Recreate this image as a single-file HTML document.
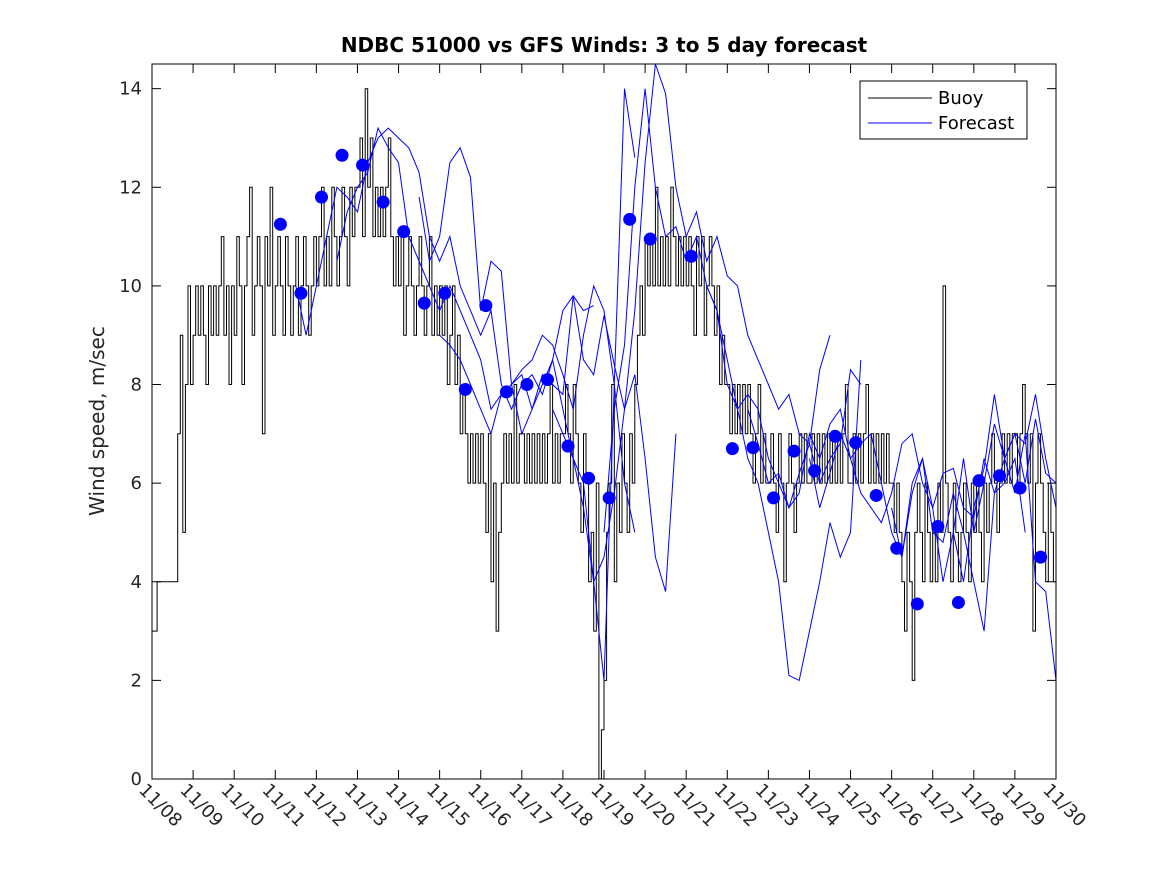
<!DOCTYPE html>
<html><head><meta charset="utf-8"><style>
body{margin:0;background:#fff;}
svg text{font-family:"DejaVu Sans","Liberation Sans",sans-serif;}
</style></head><body>
<svg id="chart" width="1167" height="875" xmlns="http://www.w3.org/2000/svg">
<rect width="1167" height="875" fill="#fff"/>
<g id="plot"></g>
</svg>
<script>
const xDayTicks=["11/08","11/09","11/10","11/11","11/12","11/13","11/14","11/15","11/16","11/17","11/18","11/19","11/20","11/21","11/22","11/23","11/24","11/25","11/26","11/27","11/28","11/29","11/30"];
const yTicks=[0,2,4,6,8,10,12,14];
const buoyStart=0, buoyStep=0.0625;
const buoy=[
3,3,4,4,4,4,4,4,4,4,7,9,5,8,10,8,
9,10,9,10,9,8,10,9,10,9,10,11,9,10,8,10,
9,11,10,8,10,11,12,9,10,11,10,7,11,10,12,9,
10,11,10,9,11,10,9,10,11,9,10,11,10,9,10,11,
10,11,12,10,11,10,12,11,10,11,12,11,10,12,11,12,
12,13,11,14,12,13,11,12,11,12,11,12,13,11,10,11,
10,11,9,10,11,10,9,10,11,10,9,10,11,9,10,9,
10,9,10,8,9,10,8,9,7,8,7,6,7,6,7,6,
7,6,5,7,4,6,3,5,6,7,6,7,6,8,6,7,
7,6,7,6,7,6,7,6,7,6,7,8,6,7,6,7,
7,8,7,6,8,7,6,5,7,6,4,5,3,6,0,1,
2,5,6,8,4,6,5,7,6,5,7,6,8,9,10,9,
11,10,11,10,12,10,11,10,11,10,12,11,10,11,10,11,
10,11,10,9,11,10,11,9,10,11,10,9,10,8,9,8,
8,7,8,7,8,7,8,7,8,7,6,7,8,6,7,6,
6,7,6,5,7,6,4,6,7,6,5,6,7,6,7,6,
6,7,6,7,6,7,6,7,6,7,6,7,6,7,8,6,
6,7,6,7,6,7,8,6,7,6,7,6,7,6,7,6,
6,5,6,5,4,3,5,4,2,5,6,5,4,6,5,4,
5,4,6,5,10,6,5,4,6,5,4,5,6,5,4,6,
5,6,5,4,6,5,6,7,6,5,6,7,6,7,6,7,
7,6,7,8,7,6,7,3,6,7,6,5,4,6,5,4];
const fcStep=0.25;
const fcStarts=[3.5,4.5,6.5,7.0,9.75,11.0,13.5,14.5,16.0,18.0,19.5];
const fc1=[10,9,10,11,12,11.8,11.5,12.5,13,13.2,13,12.8,12.3,11,10.5,11,10,9.5,9,9.5,8,7.5,8,8.2,7.8,8.5,9.5,9.8,9.5,9.6];
const fc2=[10.5,11.5,12,12.3,13.2,12.8,12.5,11,10.5,10,9.5,10,9.5,9,8.5,7.5,7.8,8,8.3,8.5,9,8.8,8.2,7.5,9,10,9.5,8,6,5];
const fc3=[11.8,10.5,11,12.5,12.8,12.2,9.5,10.5,10.3,8,7,7.5,8.2,8,7.8,9.8,8.5,8.2,9.4,8.4,7.5,8.2,6.5,4.5,3.8,7];
const fc4=[9,8.8,8.5,8,7.5,7,7.8,8,8.2,7.5,8,8.5,7.5,6.5,5.5,4,2,8,14,12.6];
const fc5=[7.5,7,6.5,6,4,4.5,5.8,7.5,9.5,12.5,14.5,13.9,12,11,11.5,10.5,11,10.2,10,9,8.5,8,7.5,7.8,7,6.8,6,6.5,6.8,8.3,8];
const fc6=[5,7.5,8.8,12,14,12,11,11.2,10.5,11,10,9.5,8.5,7.5,6.5,6,5,4,2.1,2,3,4,5.2,4.5,5,8.5];
const fc7=[10,9.5,8,7.5,7.8,7.5,6.5,6,5.5,6.2,6.8,8.3,9];
const fc8=[7.5,6.8,6,6.2,5.5,5.8,7,6.5,7.2,7.5,6.5,5.8,5.5,5.2,5.8,6.8,7,6,5.5,6.2,6.3,5.5,5.3,6.5,5.8,6,6.5,5];
const fc9=[6.5,5.5,6.2,7,6.5,6.8,7,6,5,4.5,5.8,6.5,5.5,4,5,6.5,5,6,7.2,6.5,7,6,7.3,6.2,6];
const fc10=[5.5,4.5,6,6.5,5,4.8,5.8,5,4,3,5.8,6.5,7,6.8,7.8,6.5,5.5];
const fc11=[5,4,5.5,6.3,7.8,6.5,5.8,7,4,3.8,2];
const dotStart=3.125, dotStep=0.5;
const dots=[11.25,9.85,11.8,12.65,12.45,11.7,11.1,9.65,9.85,7.9,9.6,7.85,8.0,8.1,6.75,6.1,5.7,11.35,10.95,null,10.6,null,6.7,6.72,5.7,6.65,6.25,6.95,6.82,5.75,4.68,3.55,5.12,3.58,6.05,6.15,5.9,4.5];

const L=152,R=1056,T=64,B=779,YMAX=14.5,DAYS=22;
const X=d=>L+(R-L)*d/DAYS, Y=v=>B-(B-T)*v/YMAX;
const NS="http://www.w3.org/2000/svg", g=document.getElementById('plot');
function mk(t,a){const e=document.createElementNS(NS,t);for(const k in a)e.setAttribute(k,a[k]);g.appendChild(e);return e;}

let d="";buoy.forEach((v,i)=>{const x0=X(buoyStart+i*buoyStep),x1=X(buoyStart+(i+1)*buoyStep);d+=(i?"L":"M")+x0.toFixed(1)+","+Y(v).toFixed(1)+"L"+x1.toFixed(1)+","+Y(v).toFixed(1);});
let bl=mk('path',{d:d,fill:'none',stroke:'#000','stroke-width':1});



[fc1,fc2,fc3,fc4,fc5,fc6,fc7,fc8,fc9,fc10,fc11].forEach((s,j)=>{
  const pts=s.map((v,i)=>X(fcStarts[j]+i*fcStep).toFixed(1)+","+Y(v).toFixed(1)).join(" ");
  const p=mk('polyline',{points:pts,fill:'none',stroke:'#00f','stroke-width':1});
  
  
});
dots.forEach((v,i)=>{if(v==null)return;
  const c=mk('circle',{cx:X(dotStart+i*dotStep),cy:Y(v),r:6.5,fill:'#00f'});
  
  
});

const box=mk('rect',{x:L,y:T,width:R-L,height:B-T,fill:'none',stroke:'#000','stroke-width':1});


yTicks.forEach(v=>{const y=Y(v);
  mk('line',{x1:L,x2:L+9,y1:y,y2:y,stroke:'#000'});mk('line',{x1:R,x2:R-9,y1:y,y2:y,stroke:'#000'});
  const t=mk('text',{x:L-10,y:y+6,'text-anchor':'end','font-size':18,fill:'#262626'});t.textContent=v;
  
  
});
xDayTicks.forEach((s,i)=>{const x=X(i);
  mk('line',{x1:x,x2:x,y1:B,y2:B-9,stroke:'#000'});mk('line',{x1:x,x2:x,y1:T,y2:T+9,stroke:'#000'});
  const tx=x-14, ty=B+12;
  const t=mk('text',{x:tx,y:ty,'font-size':18,fill:'#262626',transform:`rotate(45 ${tx} ${ty})`});t.textContent=s;
  
  
});
const tt=mk('text',{x:604,y:52,'text-anchor':'middle','font-size':20,'font-weight':'bold',fill:'#000'});tt.textContent="NDBC 51000 vs GFS Winds: 3 to 5 day forecast";


const yl=mk('text',{x:104,y:421,'text-anchor':'middle','font-size':20,fill:'#262626',transform:'rotate(-90 104 421)'});yl.textContent="Wind speed, m/sec";



const lg=mk('rect',{x:860,y:81,width:167,height:58,fill:'#fff',stroke:'#000'});


mk('line',{x1:868,x2:932,y1:98,y2:98,stroke:'#000'});
mk('line',{x1:868,x2:932,y1:123,y2:123,stroke:'#00f'});
const l1=mk('text',{x:938,y:104,'font-size':18,fill:'#000'});l1.textContent="Buoy";


const l2=mk('text',{x:938,y:129,'font-size':18,fill:'#000'});l2.textContent="Forecast";


</script>
</body></html>
